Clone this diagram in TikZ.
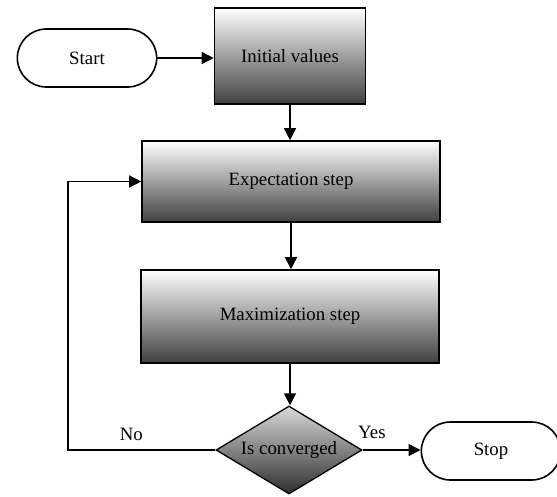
\documentclass[tikz,border=0pt]{standalone}
\usepackage{fontspec}
\setmainfont{Liberation Serif}
\usetikzlibrary{shapes.geometric,shapes.misc,arrows.meta}

\tikzset{
  terminal/.style={draw, line width=1.6pt, rounded rectangle, minimum width=146pt, minimum height=58pt},
  stepbox/.style={draw, line width=1.6pt, top color=white, bottom color=black!75},
  decision/.style={draw, line width=1.3pt, diamond, aspect=1.66, inner sep=0pt, minimum width=146pt, minimum height=88pt, top color=white!85!black, bottom color=black!82},
  flow/.style={line width=1.6pt, -{Triangle[length=12pt,width=12pt]}}
}

\begin{document}
\begin{tikzpicture}[x=1pt,y=-1pt,font=\fontsize{18.8}{22}\selectfont]
    \useasboundingbox (0,0) rectangle (557,496);

    % Nodes
    \node[terminal] (start) at (87,58) {Start};
    \node[stepbox, minimum width=151pt, minimum height=96pt] (init) at (290,56) {Initial values};
    \node[stepbox, minimum width=298pt, minimum height=81pt] (expect) at (291,181.5) {Expectation step};
    \node[stepbox, minimum width=298pt, minimum height=93pt] (maxim) at (290,316.5) {Maximization step};
    \node[decision] (conv) at (289,450) {Is converged};
    \node[terminal] (stop) at (491,451) {Stop};
    \coordinate (back) at (68,450);

    % Arrows
    \draw[flow] (start.east) -- (start.east -| init.west);
    \draw[flow] (init.south) -- (init.south |- expect.north);
    \draw[flow] (expect.south) -- (expect.south |- maxim.north);
    \draw[flow] (maxim.south) -- (maxim.south |- conv.north);
    \draw[flow] (conv.east) -- node[pos=0.16, above=7pt] {Yes} (conv.east -| stop.west);
    \draw[flow] (conv.west) -- node[pos=0.57, above=5pt] {No} (back) |- (expect.west);
\end{tikzpicture}
\end{document}
